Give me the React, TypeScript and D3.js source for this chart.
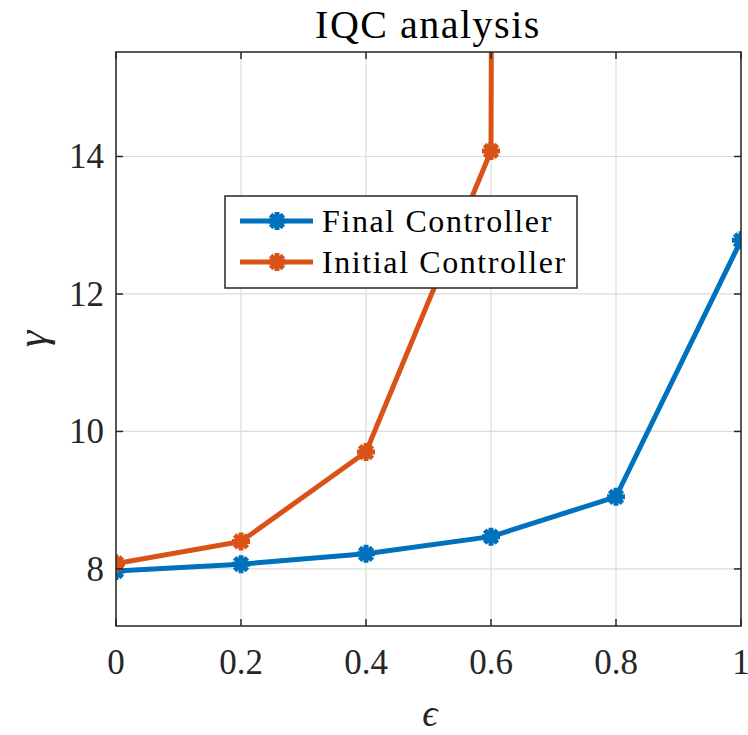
import { useEffect, useRef } from 'react'
import * as d3 from 'd3'

const epsValues = [0, 0.2, 0.4, 0.6, 0.8, 1.0]
const finalGamma = [7.97, 8.07, 8.22, 8.47, 9.05, 12.78]
const initialGamma = [8.08, 8.4, 9.7, 14.08, 600, 900]
const xTicks = [0, 0.2, 0.4, 0.6, 0.8, 1]
const yTicks = [8, 10, 12, 14]

const seriesList = [
    { name: 'Final Controller', color: '#0072BD', values: finalGamma },
    { name: 'Initial Controller', color: '#D95319', values: initialGamma },
]

const FONT = '"Liberation Serif", "DejaVu Serif", serif'

// asterisk marker like MATLAB '*'
const starPath = (r: number) => {
    const p: string[] = []
    for (let i = 0; i < 4; i++) {
        const a = (i * Math.PI) / 4
        const dx = r * Math.cos(a)
        const dy = r * Math.sin(a)
        p.push(`M${-dx},${-dy}L${dx},${dy}`)
    }
    return p.join('')
}

export default function App() {
    const ref = useRef<SVGSVGElement>(null)

    useEffect(() => {
        const width = 748
        const height = 735
        const left = 116
        const right = 741
        const top = 52
        const bottom = 626

        const svg = d3.select(ref.current)
        svg.selectAll('*').remove()

        const x = d3.scaleLinear().domain([0, 1]).range([left, right])
        const y = d3.scaleLinear().domain([7.17, 15.52]).range([bottom, top])

        svg.append('rect').attr('width', width).attr('height', height).attr('fill', '#fff')

        // grid
        const grid = svg.append('g').attr('stroke', '#dcdcdc').attr('stroke-width', 1.2)
        grid.selectAll('line.gx')
            .data(xTicks)
            .join('line')
            .attr('x1', (d) => x(d))
            .attr('x2', (d) => x(d))
            .attr('y1', top)
            .attr('y2', bottom)
        grid.selectAll('line.gy')
            .data(yTicks)
            .join('line')
            .attr('class', 'gy')
            .attr('x1', left)
            .attr('x2', right)
            .attr('y1', (d) => y(d))
            .attr('y2', (d) => y(d))

        svg.append('clipPath')
            .attr('id', 'plot-clip')
            .append('rect')
            .attr('x', left)
            .attr('y', top)
            .attr('width', right - left)
            .attr('height', bottom - top)

        const line = d3
            .line<number>()
            .x((_, i) => x(epsValues[i]))
            .y((d) => y(d))

        const plot = svg.append('g').attr('clip-path', 'url(#plot-clip)')
        seriesList.forEach((s) => {
            plot.append('path')
                .attr('d', line(s.values))
                .attr('fill', 'none')
                .attr('stroke', s.color)
                .attr('stroke-width', 5)
                .attr('stroke-linejoin', 'round')
            plot.selectAll(null)
                .data(s.values)
                .join('path')
                .attr('transform', (d, i) => `translate(${x(epsValues[i])},${y(d)})`)
                .attr('d', starPath(9))
                .attr('stroke', s.color)
                .attr('stroke-width', 5)
                .attr('fill', 'none')
        })

        // axes box and ticks
        const axis = svg.append('g').attr('stroke', '#262626').attr('stroke-width', 1.5)
        axis.append('rect')
            .attr('x', left)
            .attr('y', top)
            .attr('width', right - left)
            .attr('height', bottom - top)
            .attr('fill', 'none')
        xTicks.forEach((t) => {
            axis.append('line').attr('x1', x(t)).attr('x2', x(t)).attr('y1', bottom).attr('y2', bottom - 7)
            axis.append('line').attr('x1', x(t)).attr('x2', x(t)).attr('y1', top).attr('y2', top + 7)
        })
        yTicks.forEach((t) => {
            axis.append('line').attr('x1', left).attr('x2', left + 7).attr('y1', y(t)).attr('y2', y(t))
            axis.append('line').attr('x1', right).attr('x2', right - 7).attr('y1', y(t)).attr('y2', y(t))
        })

        const txt = svg.append('g').attr('font-family', FONT).attr('fill', '#262626')
        txt.selectAll('text.xt')
            .data(xTicks)
            .join('text')
            .attr('x', (d) => x(d))
            .attr('y', 674)
            .attr('text-anchor', 'middle')
            .attr('font-size', 35)
            .text((d) => String(d))
        txt.selectAll('text.yt')
            .data(yTicks)
            .join('text')
            .attr('class', 'yt')
            .attr('x', 104)
            .attr('y', (d) => y(d) + 12)
            .attr('text-anchor', 'end')
            .attr('font-size', 35)
            .text((d) => String(d))

        svg.append('text')
            .attr('x', 428)
            .attr('y', 38)
            .attr('text-anchor', 'middle')
            .attr('font-family', FONT)
            .attr('font-size', 40)
            .attr('letter-spacing', 1.5)
            .attr('fill', '#000')
            .text('IQC analysis')

        svg.append('text')
            .attr('x', 430)
            .attr('y', 726)
            .attr('text-anchor', 'middle')
            .attr('font-family', FONT)
            .attr('font-style', 'italic')
            .attr('font-size', 38)
            .attr('fill', '#262626')
            .text('ϵ')

        svg.append('text')
            .attr('transform', `translate(46,${(top + bottom) / 2}) rotate(-90)`)
            .attr('text-anchor', 'middle')
            .attr('font-family', FONT)
            .attr('font-style', 'italic')
            .attr('font-size', 42)
            .attr('fill', '#262626')
            .text('γ')

        // legend
        const lg = svg.append('g')
        lg.append('rect')
            .attr('x', 225)
            .attr('y', 196)
            .attr('width', 352)
            .attr('height', 92)
            .attr('fill', '#fff')
            .attr('stroke', '#262626')
            .attr('stroke-width', 1.5)
        seriesList.forEach((s, i) => {
            const cy = 221 + i * 41
            lg.append('line')
                .attr('x1', 240)
                .attr('x2', 313)
                .attr('y1', cy)
                .attr('y2', cy)
                .attr('stroke', s.color)
                .attr('stroke-width', 5)
            lg.append('path')
                .attr('transform', `translate(277,${cy})`)
                .attr('d', starPath(9))
                .attr('stroke', s.color)
                .attr('stroke-width', 5)
            lg.append('text')
                .attr('x', 322)
                .attr('y', cy + 11)
                .attr('font-family', FONT)
                .attr('font-size', 32)
                .attr('letter-spacing', 1.6)
                .attr('fill', '#000')
                .text(s.name)
        })
    }, [])

    return (
        <svg
            ref={ref}
            width={748}
            height={735}
            style={{ position: 'absolute', left: 0, top: 0 }}
        />
    )
}
